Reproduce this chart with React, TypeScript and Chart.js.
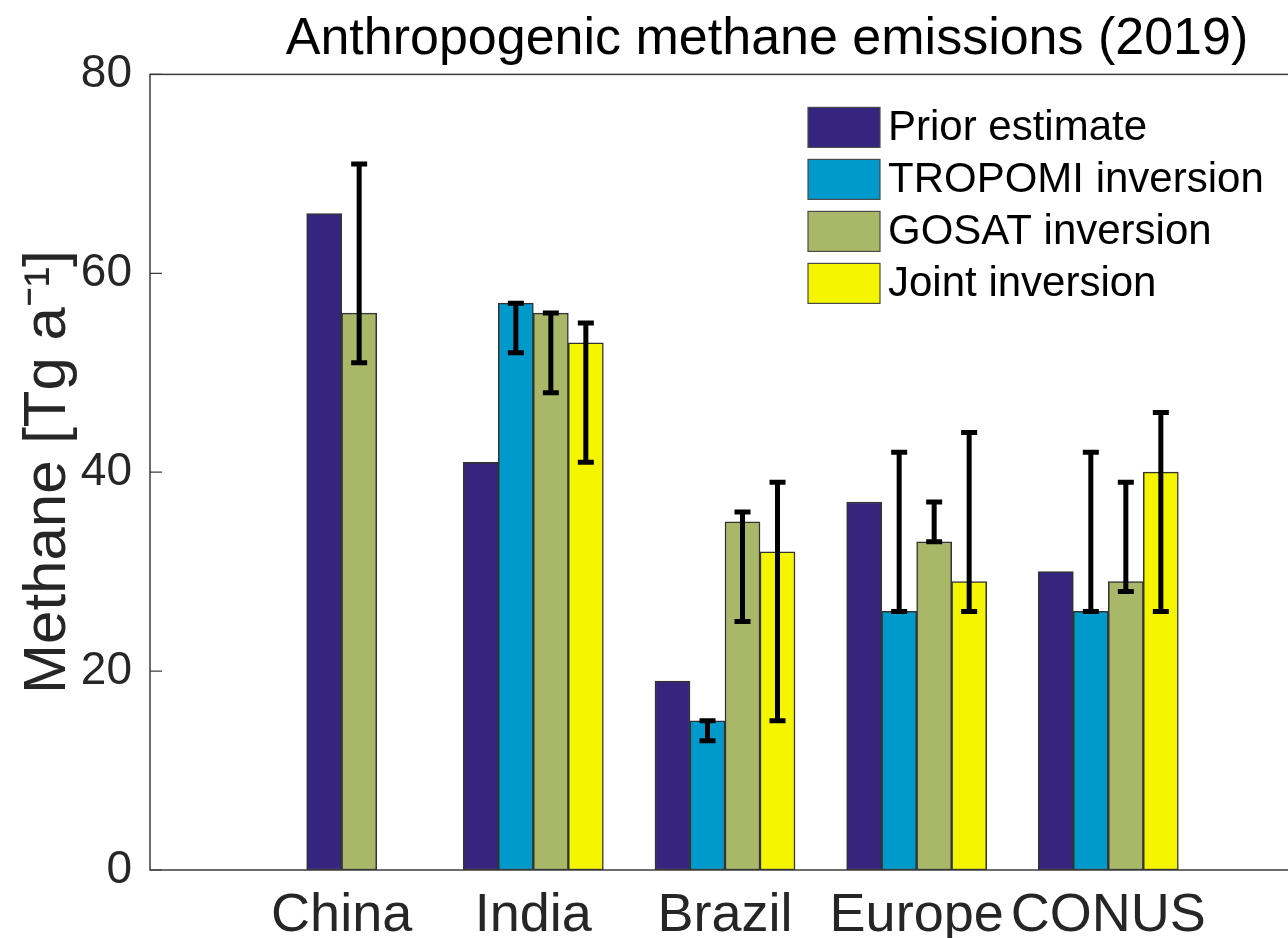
import React, { useEffect, useRef } from 'react';
import { Chart, registerables } from 'chart.js';

Chart.register(...registerables);

const categories = ['China', 'India', 'Brazil', 'Europe', 'CONUS'];
const seriesNames = ['Prior estimate', 'TROPOMI inversion', 'GOSAT inversion', 'Joint inversion'];
const seriesColors = ['#36257f', '#0099cc', '#a8b868', '#f5f500'];

const priorValues = [66, 41, 19, 37, 30];
const tropomiValues = [null, 57, 15, 26, 26];
const gosatValues = [56, 56, 35, 33, 29];
const jointValues = [null, 53, 32, 29, 40];

const tropomiLow = [null, 52, 13, 26, 26];
const tropomiHigh = [null, 57, 15, 42, 42];
const gosatLow = [51, 48, 25, 33, 28];
const gosatHigh = [71, 56, 36, 37, 39];
const jointLow = [null, 41, 15, 26, 26];
const jointHigh = [null, 55, 39, 44, 46];

const yTicks = [0, 20, 40, 60, 80];

const FONT = "'Liberation Sans', Arial, Helvetica, sans-serif";
const AXIS_COLOR = '#262626';

const toPoints = (vals: (number | null)[]) => vals.map((v, i) => ({ x: i + 1, y: v }));

const decorPlugin = {
  id: 'decor',
  afterLayout(chart: any) {
    const t = chart.titleBlock;
    if (t) {
      t.left += 42;
      t.right += 42;
    }
  },
  afterDatasetsDraw(chart: any) {
    const ctx = chart.ctx;
    const ys = chart.scales.y;
    const area = chart.chartArea;
    ctx.save();
    // error bars
    chart.data.datasets.forEach((ds: any, di: number) => {
      const lows = ds.errLow;
      const highs = ds.errHigh;
      if (!lows || !highs) return;
      const meta = chart.getDatasetMeta(di);
      meta.data.forEach((bar: any, i: number) => {
        const lo = lows[i];
        const hi = highs[i];
        if (lo == null || hi == null) return;
        const x = bar.x;
        const y1 = ys.getPixelForValue(lo);
        const y2 = ys.getPixelForValue(hi);
        ctx.strokeStyle = '#000';
        ctx.lineWidth = 5;
        ctx.lineCap = 'butt';
        ctx.beginPath();
        ctx.moveTo(x, y1);
        ctx.lineTo(x, y2);
        ctx.moveTo(x - 8, y1);
        ctx.lineTo(x + 8, y1);
        ctx.moveTo(x - 8, y2);
        ctx.lineTo(x + 8, y2);
        ctx.stroke();
      });
    });
    // frame
    ctx.strokeStyle = '#3c3c3c';
    ctx.lineWidth = 1.5;
    ctx.strokeRect(area.left, area.top, area.right - area.left, area.bottom - area.top);
    // inward y ticks on both sides
    ctx.lineWidth = 1.2;
    yTicks.forEach((v) => {
      const y = ys.getPixelForValue(v);
      ctx.beginPath();
      ctx.moveTo(area.left, y);
      ctx.lineTo(area.left + 12, y);
      ctx.moveTo(area.right - 12, y);
      ctx.lineTo(area.right, y);
      ctx.stroke();
    });
    ctx.restore();
  },
  afterDraw(chart: any) {
    const ctx = chart.ctx;
    const area = chart.chartArea;
    const boxLeft = area.left + 658;
    const boxTop = area.top + 33;
    const boxW = 72;
    const boxH = 40;
    const step = 52;
    ctx.save();
    ctx.font = `42px ${FONT}`;
    ctx.textBaseline = 'middle';
    ctx.textAlign = 'left';
    chart.data.datasets.forEach((ds: any, i: number) => {
      const top = boxTop + i * step;
      ctx.fillStyle = ds.backgroundColor;
      ctx.fillRect(boxLeft, top, boxW, boxH);
      ctx.strokeStyle = '#4a4a4a';
      ctx.lineWidth = 1.2;
      ctx.strokeRect(boxLeft, top, boxW, boxH);
      ctx.fillStyle = '#000';
      ctx.fillText(ds.label, boxLeft + boxW + 8, top + boxH / 2 + 1);
    });
    ctx.restore();
  },
};

export default function App() {
  const ref = useRef<HTMLCanvasElement | null>(null);

  useEffect(() => {
    if (!ref.current) return;
    const valueSets = [priorValues, tropomiValues, gosatValues, jointValues];
    const lowSets = [null, tropomiLow, gosatLow, jointLow];
    const highSets = [null, tropomiHigh, gosatHigh, jointHigh];
    const datasets: any[] = valueSets.map((vals, i) => ({
      label: seriesNames[i],
      data: toPoints(vals),
      backgroundColor: seriesColors[i],
      borderColor: '#333333',
      borderWidth: 1.5,
      borderSkipped: false,
      skipNull: true,
      barThickness: 35,
      errLow: lowSets[i],
      errHigh: highSets[i],
    }));

    const chart = new Chart(ref.current, {
      type: 'bar',
      data: { datasets },
      options: {
        animation: false,
        responsive: true,
        maintainAspectRatio: false,
        layout: { padding: 0 },
        plugins: {
          legend: { display: false },
          tooltip: { enabled: false },
          title: {
            display: true,
            text: 'Anthropogenic methane emissions (2019)',
            color: '#000',
            fullSize: false,
            align: 'center',
            font: { family: FONT, size: 52, weight: 'normal' },
            padding: { top: 8, bottom: 4 },
          },
        },
        scales: {
          x: {
            type: 'linear',
            min: 0,
            max: categories.length + 1,
            offset: false,
            grid: { display: false, drawTicks: false },
            border: { display: false },
            afterBuildTicks: (scale: any) => {
              scale.ticks = categories.map((_, i) => ({ value: i + 1 }));
            },
            afterFit: (scale: any) => {
              scale.height = 68;
            },
            ticks: {
              autoSkip: false,
              maxRotation: 0,
              padding: 14,
              color: AXIS_COLOR,
              font: { family: FONT, size: 54 },
              callback: (value: any) => categories[Math.round(Number(value)) - 1] ?? '',
            },
          },
          y: {
            min: 0,
            max: 80,
            grid: { display: false, drawTicks: false },
            border: { display: false },
            afterBuildTicks: (scale: any) => {
              scale.ticks = yTicks.map((v) => ({ value: v }));
            },
            afterFit: (scale: any) => {
              scale.width = 150;
            },
            ticks: {
              padding: 18,
              color: AXIS_COLOR,
              font: { family: FONT, size: 46 },
            },
            title: {
              display: true,
              text: 'Methane [Tg a\u207B\u00B9]',
              color: AXIS_COLOR,
              font: { family: FONT, size: 60 },
              padding: { top: 12, bottom: 0 },
            },
          },
        },
      },
      plugins: [decorPlugin],
    } as any);

    return () => chart.destroy();
  }, []);

  return (
    <div
      style={{
        position: 'absolute',
        left: 0,
        top: 0,
        width: 1288,
        height: 938,
        overflow: 'hidden',
        background: '#fff',
      }}
    >
      <div style={{ position: 'relative', width: 1300, height: 938 }}>
        <canvas ref={ref} />
      </div>
    </div>
  );
}
